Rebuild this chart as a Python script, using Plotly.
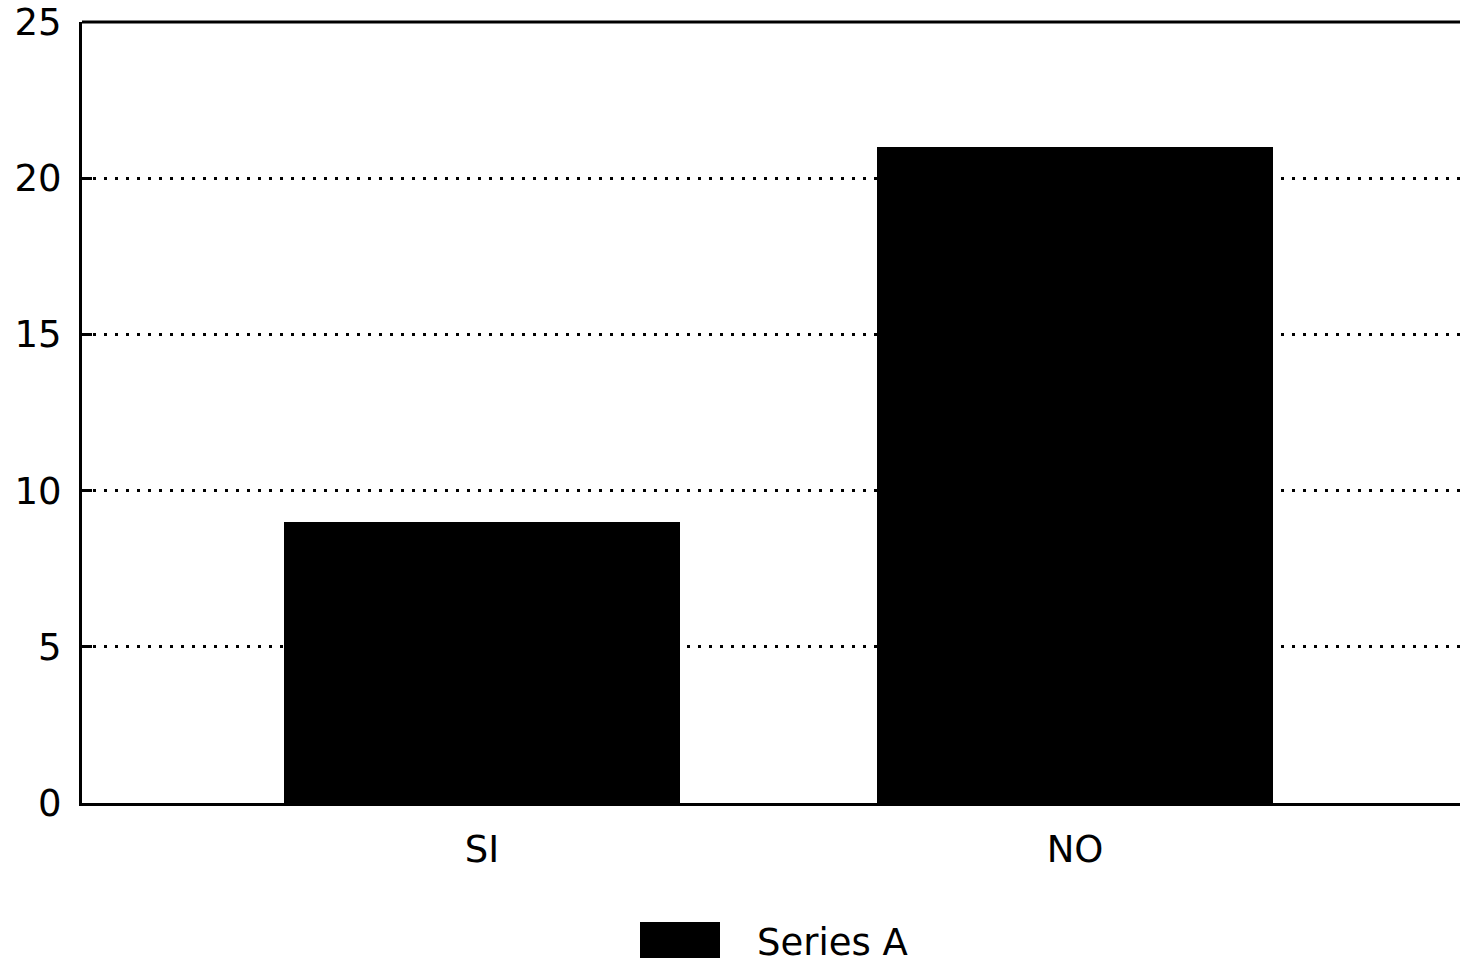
import plotly.graph_objects as go

categories = ["SI", "NO"]
values = [9, 21]
series_name = "Series A"
y_ticks = [0, 5, 10, 15, 20, 25]
y_ticklabels = ["0", "5", "10", "15", "20", "25"]

fig = go.Figure()
fig.add_trace(go.Bar(
    x=[0, 1], y=values, name=series_name,
    marker=dict(color="black", line=dict(width=0)),
    width=0.668, showlegend=False,
))

font = dict(family="DejaVu Sans, Liberation Sans, sans-serif", size=37, color="black")

fig.update_layout(
    width=1460, height=966,
    margin=dict(l=82, r=0, t=22, b=163),
    paper_bgcolor="white", plot_bgcolor="white",
    font=font,
    bargap=0,
    xaxis=dict(
        range=[-0.6745, 1.649],
        tickvals=[0, 1], ticktext=categories,
        showgrid=False, zeroline=False,
        showline=True, linecolor="black", linewidth=3,
        ticks="", ticklabelstandoff=12,
        fixedrange=True,
    ),
    yaxis=dict(
        range=[0, 25],
        tickvals=y_ticks, ticktext=y_ticklabels,
        showgrid=True, gridcolor="black", gridwidth=3, griddash="3px,8px",
        zeroline=False,
        showline=True, linecolor="black", linewidth=3,
        ticks="inside", ticklen=10, tickwidth=3, tickcolor="black",
        ticklabelstandoff=10,
    ),
    shapes=[
        dict(type="line", xref="paper", yref="paper", x0=0, x1=1, y0=1, y1=1,
             line=dict(color="black", width=3)),
        dict(type="rect", xref="paper", yref="paper",
             x0=(640 - 82) / 1378, x1=(720 - 82) / 1378,
             y0=(803 - 958) / 781, y1=(803 - 922) / 781,
             fillcolor="black", line=dict(width=0)),
    ],
    annotations=[
        dict(text=series_name, xref="paper", yref="paper",
             x=(755 - 82) / 1378, y=(803 - 942) / 781,
             xanchor="left", yanchor="middle", showarrow=False,
             font=font),
    ],
)

fig.write_html(
    "out.html",
    config={"displayModeBar": False},
    post_script="document.body.style.margin='0';document.body.style.overflow='hidden';",
)
